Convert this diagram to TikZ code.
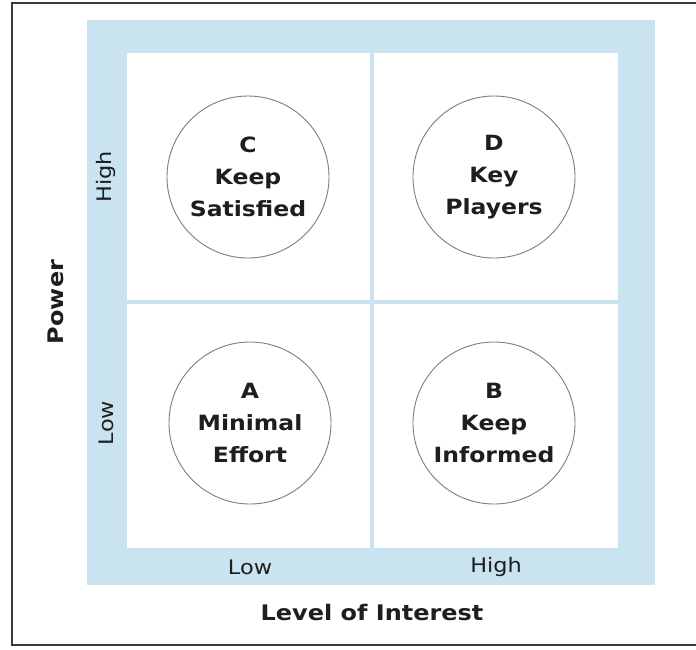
\documentclass[tikz,border=0pt]{standalone}
\usepackage{fontspec}
\setmainfont{DejaVu Sans}[FakeStretch=1.12]
\usepackage{tikz}
\usetikzlibrary{positioning}
\definecolor{gridblue}{HTML}{C9E4F0}
\definecolor{ringgray}{HTML}{6F8190}
\definecolor{inkgray}{HTML}{1E1E1E}
\definecolor{framegray}{HTML}{3A3A3A}

\begin{document}
\begin{tikzpicture}[x=1pt, y=-1pt,
    quadrant/.style={circle, draw=ringgray, line width=0.9pt, fill=white,
      minimum size=162pt, inner sep=0pt, align=center, text=inkgray,
      font=\fontsize{21}{32}\selectfont\bfseries},
    axistick/.style={text=inkgray, inner sep=0pt, font=\fontsize{20}{22}\selectfont},
    axistitle/.style={text=inkgray, inner sep=0pt, font=\fontsize{21.4}{24}\selectfont\bfseries}]
  \useasboundingbox (0,0) rectangle (696,649);
  \clip (0,0) rectangle (696,649);
  % outer frame (its right side is cut off by the page)
  \draw[framegray, line width=1.4pt] (12,3) rectangle (720,645);
  % blue band, white field and the two dividers
  \fill[gridblue] (87,20) rectangle (655,585);
  \fill[white] (127,53) rectangle (618,548);
  \draw[gridblue, line width=4pt] (372,53) -- (372,548);
  \draw[gridblue, line width=4pt] (127,302) -- (618,302);
  % the four groups
  \node[quadrant] (keepsat) at (248,177) {C\\Keep\\Satisfied};
  \node[quadrant] (keyplay) at (494,177) {D\\Key\\Players};
  \node[quadrant] (mineff)  at (250,423) {A\\Minimal\\Effort};
  \node[quadrant] (keepinf) at (494,423) {B\\Keep\\Informed};
  % axis ticks
  \node[axistick, rotate=90] (powhigh) at (106,177) {High};
  \node[axistick, rotate=90] (powlow)  at (106,423) {Low};
  \node[axistick] (intlow)  at (250,567) {Low};
  \node[axistick] (inthigh) at (496,567) {High};
  % axis titles
  \node[axistitle, rotate=90] (power) at (56,302) {Power};
  \node[axistitle] (interest) at (372,613) {Level of Interest};
\end{tikzpicture}
\end{document}
